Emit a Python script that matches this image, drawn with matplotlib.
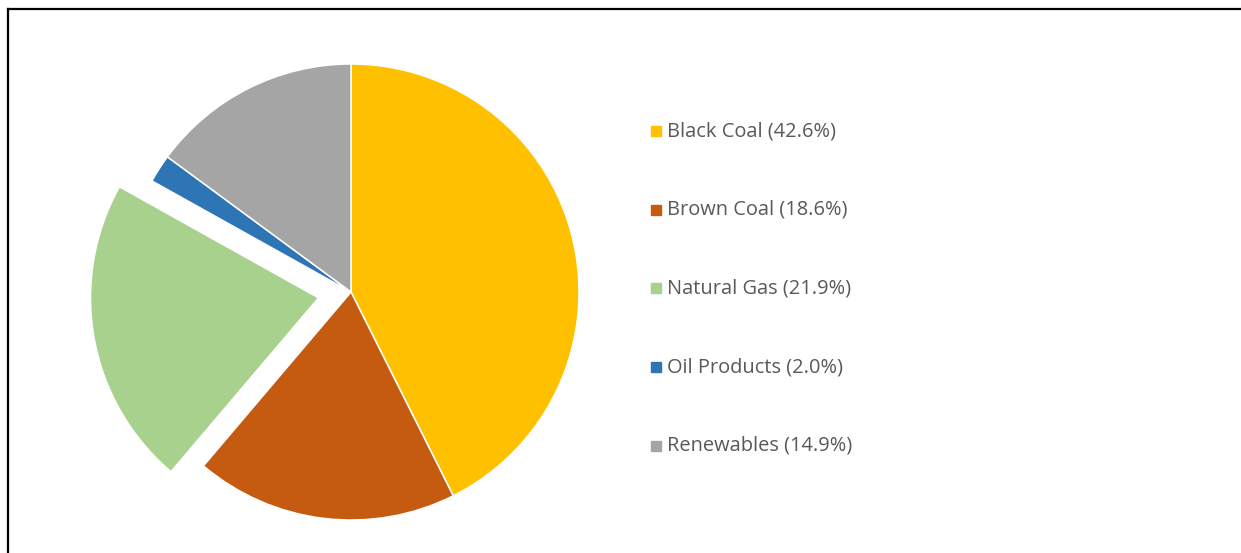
import matplotlib
matplotlib.use("Agg")
import matplotlib.pyplot as plt
from matplotlib.lines import Line2D

categories = ["Black Coal", "Brown Coal", "Natural Gas", "Oil Products", "Renewables"]
shares = [42.6, 18.6, 21.9, 2.0, 14.9]
colors = ["#FFC000", "#C55A11", "#A9D18E", "#2E75B6", "#A5A5A5"]

W, H = 1241, 553
R = 228
# explode offset is in data units here (pixels), Natural Gas pulled out
explode = [0, 0, 33, 0, 0]

fig = plt.figure(figsize=(W / 100, H / 100), dpi=100)
ax = fig.add_axes([0, 0, 1, 1])

ax.pie(shares, colors=colors, explode=explode, startangle=90, counterclock=False,
       center=(351, H - 292), radius=R, frame=True,
       wedgeprops=dict(edgecolor="white", linewidth=1.1))
ax.set_xlim(0, W)
ax.set_ylim(0, H)
ax.set_aspect("equal")
ax.axis("off")

# legend drawn by hand so spacing matches
for i, (name, val, c) in enumerate(zip(categories, shares, colors)):
    y = H - 131 - i * 78.7
    ax.plot(656, y, marker="s", markersize=7.2, color=c, linestyle="none")
    ax.text(667, y, f"{name} ({val:.1f}%)", va="center", ha="left",
            fontsize=14.4, color="#595959", family="Open Sans")

# outer frame: only top and left lines visible
fig.add_artist(Line2D([7.5 / W, 1], [1 - 8.5 / H, 1 - 8.5 / H], transform=fig.transFigure,
                      color="black", linewidth=1.6))
fig.add_artist(Line2D([7.5 / W, 7.5 / W], [0, 1 - 8.5 / H], transform=fig.transFigure,
                      color="black", linewidth=1.6))

fig.savefig("out.png", dpi=100)
